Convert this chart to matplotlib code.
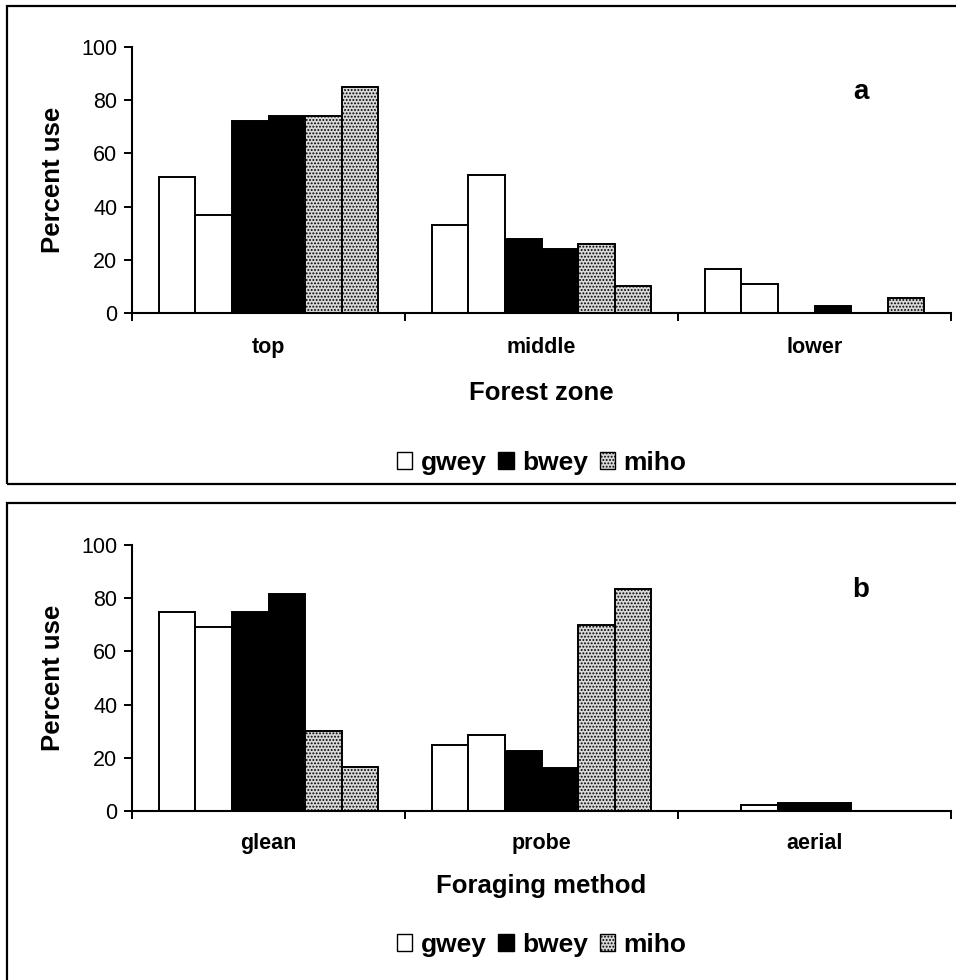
import matplotlib.pyplot as plt
import numpy as np
from matplotlib.patches import Patch, Rectangle


ZONES = ["top", "middle", "lower"]
METHODS = ["glean", "probe", "aerial"]

# two bars per species in each category
zone_gwey = [[51, 33, 16.5], [37, 52, 11]]
zone_bwey = [[72, 28, 0], [74, 24, 2.5]]
zone_miho = [[74, 26, 0], [85, 10, 5.5]]

method_gwey = [[75, 25, 0], [69, 28.5, 2.3]]
method_bwey = [[75, 22.5, 3], [81.5, 16, 3]]
method_miho = [[30, 70, 0], [16.5, 83.5, 0]]

SPECIES = ["gwey", "bwey", "miho"]
STYLES = {
    "gwey": dict(facecolor="white", edgecolor="black", hatch=None),
    "bwey": dict(facecolor="black", edgecolor="black", hatch=None),
    "miho": dict(facecolor="#d8d8d8", edgecolor="black", hatch="....."),
}

W, H = 956, 980
FONT = "Liberation Sans"


def draw_panel(fig, rect, categories, series, xlabel, letter, tick_pad, xlabel_pad, legend_y):
    ax = fig.add_axes(rect)
    x = np.arange(len(categories))
    width = 0.134
    offsets = (np.arange(6) - 2.5) * width

    k = 0
    for sp, vals in zip(SPECIES, series):
        for v in vals:
            ax.bar(x + offsets[k], v, width, linewidth=1.4, **STYLES[sp])
            k += 1

    ax.set_xlim(-0.5, len(categories) - 0.5)
    ax.set_ylim(0, 100)
    ax.set_yticks(np.arange(0, 101, 20))
    ax.set_xticks(x)
    ax.set_xticklabels(categories, fontsize=15.5, fontweight="bold", family=FONT)
    ax.set_xticks(np.arange(len(categories) + 1) - 0.5, minor=True)
    ax.tick_params(axis="x", which="major", length=0, pad=tick_pad)
    ax.tick_params(axis="x", which="minor", length=5.5, width=1.4, direction="out")
    ax.tick_params(axis="y", length=5.5, width=1.4, labelsize=15.5, pad=5)
    for lab in ax.get_yticklabels():
        lab.set_family(FONT)

    for side in ("top", "right"):
        ax.spines[side].set_visible(False)
    for side in ("left", "bottom"):
        ax.spines[side].set_linewidth(1.5)

    ax.set_xlabel(xlabel, fontsize=18.5, fontweight="bold", family=FONT,
                  labelpad=xlabel_pad)
    ax.set_ylabel("Percent use", fontsize=18.5, fontweight="bold", family=FONT,
                  labelpad=12)
    ax.text(0.89, 0.83, letter, transform=ax.transAxes, fontsize=20,
            fontweight="bold", family=FONT, ha="center", va="center")

    # legend centred under the plot area
    cx = rect[0] + rect[2] / 2
    handles = [Patch(label=sp, linewidth=1.0, **STYLES[sp]) for sp in SPECIES]
    fig.legend(handles=handles, loc="center", bbox_to_anchor=(cx, legend_y),
               ncol=3, frameon=False, handlelength=0.6, handleheight=0.6,
               handletextpad=0.3, columnspacing=0.45,
               prop={"family": FONT, "weight": "bold", "size": 19})
    return ax


def main():
    plt.rcParams["hatch.linewidth"] = 0.9
    plt.rcParams["font.family"] = [FONT, "DejaVu Sans"]

    fig = plt.figure(figsize=(W / 100, H / 100), dpi=100)

    left = 132 / W
    width = (951 - 132) / W
    height = 266 / H

    draw_panel(fig, [left, 1 - 313 / H, width, height], ZONES,
               [zone_gwey, zone_bwey, zone_miho], "Forest zone", "a",
               tick_pad=17, xlabel_pad=17, legend_y=1 - 463 / H)
    draw_panel(fig, [left, 1 - 811 / H, width, height], METHODS,
               [method_gwey, method_bwey, method_miho], "Foraging method", "b",
               tick_pad=15.5, xlabel_pad=15, legend_y=1 - 945 / H)

    # outer frames around each panel (right/bottom edges fall outside the image)
    fig.patches.append(Rectangle((7 / W, 1 - 484.5 / H), 1.05, (484.5 - 6) / H,
                                 transform=fig.transFigure, fill=False,
                                 linewidth=1.6, edgecolor="black"))
    fig.patches.append(Rectangle((7 / W, -0.05), 1.05, 0.05 + 1 - 503.5 / H,
                                 transform=fig.transFigure, fill=False,
                                 linewidth=1.6, edgecolor="black"))

    fig.savefig("out.png", dpi=100)


if __name__ == "__main__":
    main()
